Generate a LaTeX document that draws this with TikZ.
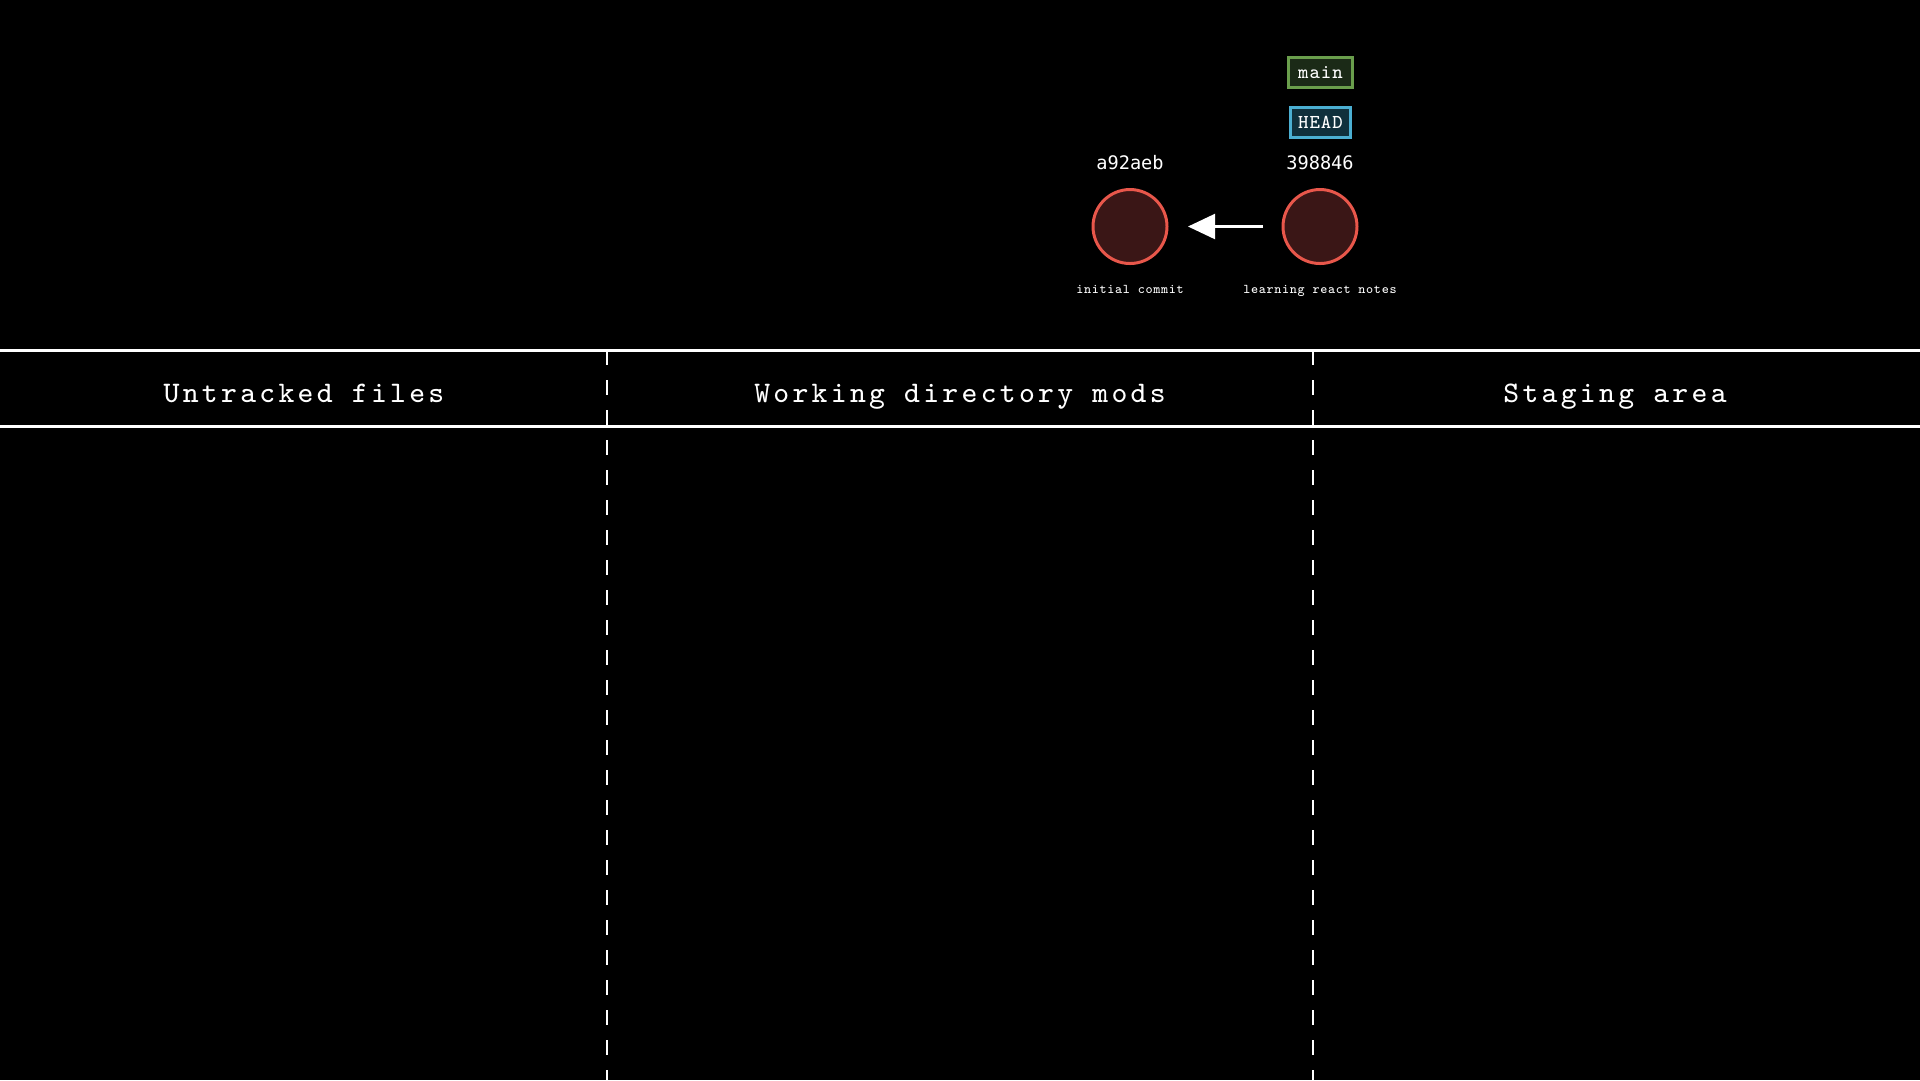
\documentclass[tikz,border=0pt]{standalone}
\usepackage{fontspec}
\newfontfamily\areafont{Latin Modern Mono}[LetterSpace=11]
\newfontfamily\tagfont{Latin Modern Mono}[LetterSpace=5]
\newfontfamily\hashfont{DejaVu Sans Mono}
\usepackage{tikz}
\usetikzlibrary{arrows.meta,calc}
\definecolor{commitfill}{HTML}{3A1616}
\definecolor{commitedge}{HTML}{E8574B}
\definecolor{mainedge}{HTML}{6A9E4C}
\definecolor{mainfill}{HTML}{1B2A17}
\definecolor{headedge}{HTML}{4BAFD2}
\definecolor{headfill}{HTML}{10303C}

\begin{document}
\begin{tikzpicture}[x=0.1mm, y=-0.1mm,
        commit/.style={circle, draw=commitedge, fill=commitfill, line width=0.85pt, minimum size=7.4mm, inner sep=0pt},
        hash/.style={text=white, anchor=base, font=\hashfont\fontsize{5.3}{6}\selectfont},
        msg/.style={text=white, anchor=base, font=\tagfont\fontsize{3.8}{4}\selectfont},
        branch/.style={line width=0.85pt, text=white, minimum height=3mm, inner sep=0pt, font=\tagfont\fontsize{5.6}{6}\selectfont},
        area/.style={text=white, anchor=base, font=\areafont\fontsize{8.5}{9}\selectfont}]
            \useasboundingbox (0,0) rectangle (1920,1080);
            \fill[black] (0,0) rectangle (1920,1080);
            % commits
            \node[commit] (C0) at (1130,226.5) {};
            \node[commit] (C1) at (1320,226.5) {};
            \node[hash] (H0) at (1130,169) {a92aeb};
            \node[hash] (H1) at (1320,169) {398846};
            \node[msg] (M0) at (1130,293) {initial commit};
            \node[msg] (M1) at (1320,293) {learning react notes};
            \node[branch, draw=mainedge, fill=mainfill, minimum width=6.4mm] (Main) at (1320.5,72.5) {main};
            \node[branch, draw=headedge, fill=headfill, minimum width=6mm] (Head) at (1320.5,122) {HEAD};
            \draw[white, line width=0.6pt, -{Triangle[length=2.7mm,width=2.5mm]}, shorten >=1.95mm, shorten <=1.85mm] (C1) -- (C0);
            % areas
            \coordinate (TL) at (0,350);
            \coordinate (TR) at (1920,350);
            \coordinate (BL) at (0,426);
            \coordinate (BR) at (1920,426);
            \coordinate (D0) at (607,350);
            \coordinate (D1) at (1313,350);
            \draw[white, line width=0.85pt] (TL) -- (TR);
            \draw[white, line width=0.85pt] (BL) -- (BR);
            \draw[white, line width=0.75pt, dash pattern=on 1.5mm off 1.5mm] (D0) -- (D0 |- 0,1080);
            \draw[white, line width=0.75pt, dash pattern=on 1.5mm off 1.5mm] (D1) -- (D1 |- 0,1080);
            \node[area] (Untracked) at (304,402) {Untracked files};
            \node[area] (Working) at (960,402) {Working directory mods};
            \node[area] (Staging) at (1615,402) {Staging area};
\end{tikzpicture}
\end{document}
